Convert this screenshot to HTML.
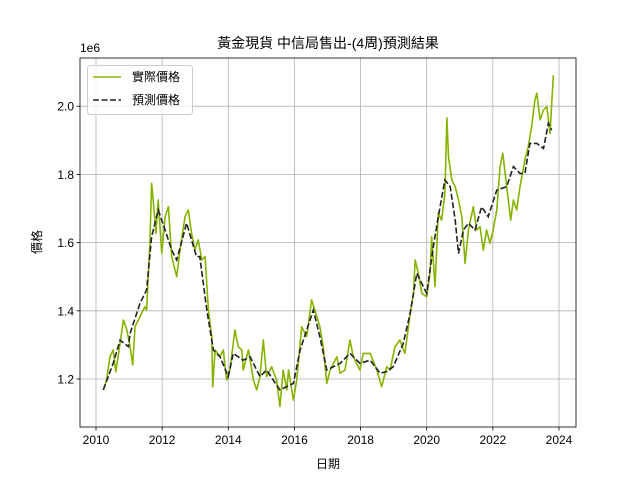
<!DOCTYPE html>
<html><head><meta charset="utf-8"><style>
body{margin:0;background:#fff}
svg{display:block;font-family:"Liberation Sans","Noto Sans CJK TC",sans-serif}
</style></head><body>
<svg id="c" width="640" height="480"></svg>
<script>
const actualYears=[2010.22,2010.32,2010.42,2010.52,2010.60,2010.73,2010.83,2010.93,2011.03,2011.11,2011.18,2011.33,2011.48,2011.53,2011.63,2011.68,2011.73,2011.81,2011.88,2011.99,2012.09,2012.19,2012.29,2012.39,2012.44,2012.54,2012.69,2012.79,2012.89,2012.99,2013.09,2013.20,2013.30,2013.40,2013.50,2013.53,2013.60,2013.75,2013.85,2013.95,2014.05,2014.20,2014.30,2014.41,2014.45,2014.61,2014.76,2014.86,2014.96,2015.06,2015.16,2015.31,2015.46,2015.56,2015.66,2015.77,2015.82,2015.97,2016.07,2016.22,2016.37,2016.52,2016.62,2016.77,2016.87,2016.98,2017.08,2017.18,2017.28,2017.38,2017.53,2017.68,2017.78,2017.98,2018.08,2018.29,2018.49,2018.64,2018.79,2018.89,2019.04,2019.19,2019.34,2019.50,2019.60,2019.65,2019.75,2019.85,2020.00,2020.10,2020.15,2020.25,2020.35,2020.45,2020.55,2020.61,2020.66,2020.76,2020.86,2020.96,2021.06,2021.16,2021.26,2021.41,2021.51,2021.61,2021.71,2021.81,2021.91,2022.01,2022.12,2022.22,2022.30,2022.42,2022.54,2022.62,2022.72,2022.82,2022.97,2023.07,2023.17,2023.27,2023.33,2023.43,2023.53,2023.63,2023.73,2023.78,2023.83];
const actualValues=[1.168,1.197,1.265,1.285,1.221,1.305,1.373,1.344,1.295,1.241,1.353,1.383,1.412,1.402,1.598,1.774,1.725,1.627,1.725,1.569,1.676,1.705,1.559,1.520,1.500,1.578,1.676,1.696,1.627,1.578,1.608,1.549,1.559,1.402,1.324,1.177,1.285,1.265,1.285,1.197,1.226,1.344,1.295,1.285,1.226,1.285,1.197,1.168,1.207,1.314,1.207,1.236,1.197,1.119,1.226,1.168,1.226,1.138,1.197,1.353,1.324,1.432,1.402,1.353,1.295,1.187,1.226,1.246,1.265,1.217,1.226,1.314,1.265,1.226,1.275,1.275,1.226,1.177,1.236,1.226,1.295,1.314,1.275,1.393,1.451,1.549,1.510,1.451,1.441,1.510,1.617,1.471,1.686,1.666,1.745,1.965,1.852,1.784,1.764,1.725,1.676,1.539,1.637,1.705,1.637,1.647,1.578,1.637,1.598,1.637,1.696,1.823,1.862,1.764,1.666,1.725,1.696,1.764,1.842,1.881,1.940,2.018,2.038,1.960,1.989,1.999,1.920,2.008,2.091];
const predYears=[2010.22,2010.52,2010.73,2010.98,2011.03,2011.33,2011.53,2011.68,2011.88,2012.09,2012.29,2012.44,2012.74,2013.04,2013.14,2013.35,2013.55,2013.75,2014.0,2014.15,2014.45,2014.66,2014.96,2015.16,2015.56,2015.97,2016.17,2016.57,2016.77,2016.98,2017.38,2017.68,2017.98,2018.29,2018.59,2018.79,2018.99,2019.29,2019.50,2019.70,2020.0,2020.20,2020.35,2020.55,2020.71,2020.86,2020.96,2021.11,2021.26,2021.46,2021.66,2021.86,2022.12,2022.42,2022.62,2022.82,2022.97,2023.12,2023.33,2023.53,2023.68,2023.78];
const predValues=[1.168,1.246,1.314,1.295,1.334,1.422,1.461,1.617,1.696,1.637,1.578,1.549,1.657,1.559,1.559,1.402,1.285,1.265,1.207,1.275,1.255,1.265,1.207,1.226,1.168,1.187,1.285,1.402,1.324,1.226,1.246,1.275,1.246,1.255,1.217,1.222,1.236,1.304,1.393,1.510,1.451,1.588,1.676,1.784,1.764,1.666,1.568,1.637,1.657,1.637,1.705,1.676,1.754,1.764,1.823,1.803,1.803,1.891,1.891,1.876,1.950,1.930];
const xTicks=[2010,2012,2014,2016,2018,2020,2022,2024];
const yTicks=[1.2,1.4,1.6,1.8,2.0];
const L=80,R=576,T=58,B=427;
const X=v=>96+(v-2010)*(559-96)/14;
const Y=v=>379-(v-1.2)*341;
const NS='http://www.w3.org/2000/svg';
const svg=document.getElementById('c');
function el(t,a,txt){const e=document.createElementNS(NS,t);for(const k in a)e.setAttribute(k,a[k]);if(txt!=null)e.textContent=txt;svg.appendChild(e);return e;}
xTicks.forEach(t=>{
  const g=el('line',{x1:X(t),x2:X(t),y1:T,y2:B,stroke:'#b0b0b0','stroke-width':0.8});
  
  
  el('line',{x1:X(t),x2:X(t),y1:B,y2:B+3.5,stroke:'#000','stroke-width':0.8});
  const tx=el('text',{x:X(t),y:B+17,'text-anchor':'middle','font-size':12,fill:'#000'},t);
  
  
});
yTicks.forEach(t=>{
  const g=el('line',{x1:L,x2:R,y1:Y(t),y2:Y(t),stroke:'#b0b0b0','stroke-width':0.8});
  
  
  el('line',{x1:L-3.5,x2:L,y1:Y(t),y2:Y(t),stroke:'#000','stroke-width':0.8});
  const tx=el('text',{x:L-6,y:Y(t)+4.5,'text-anchor':'end','font-size':12,fill:'#000'},t.toFixed(1));
  
  
});
const pa=actualYears.map((y,i)=>X(y).toFixed(1)+','+Y(actualValues[i]).toFixed(1)).join(' ');
const l1=el('polyline',{points:pa,fill:'none',stroke:'#86b300','stroke-width':1.6,'stroke-linejoin':'round'});


const pp=predYears.map((y,i)=>X(y).toFixed(1)+','+Y(predValues[i]).toFixed(1)).join(' ');
const l2=el('polyline',{points:pp,fill:'none',stroke:'#222','stroke-width':1.6,'stroke-dasharray':'6,2.5'});


const fr=el('rect',{x:L,y:T,width:R-L,height:B-T,fill:'none',stroke:'#000','stroke-width':0.8});


</script>
<svg style="position:absolute;left:0;top:0" width="640" height="480">
<text x="328" y="48" text-anchor="middle" font-size="14" font-family="Liberation Sans,Noto Sans CJK TC,sans-serif">黃金現貨 中信局售出-(4周)預測結果</text>
<text x="80" y="52" font-size="12" font-family="Liberation Sans,sans-serif">1e6</text>
<text x="328" y="468" text-anchor="middle" font-size="12" font-family="Liberation Sans,Noto Sans CJK TC,sans-serif">日期</text>
<text x="41" y="242" text-anchor="middle" font-size="12" transform="rotate(-90 41 242)" font-family="Liberation Sans,Noto Sans CJK TC,sans-serif">價格</text>
<g>
<rect x="87.5" y="65.5" width="105" height="49" rx="3" fill="#fff" fill-opacity="0.8" stroke="#ccc"/>
<line x1="93" x2="121" y1="77" y2="77" stroke="#86b300" stroke-width="1.6"/>
<text x="132" y="81" font-size="12" font-family="Liberation Sans,Noto Sans CJK TC,sans-serif">實際價格</text>
<line x1="93" x2="121" y1="100" y2="100" stroke="#222" stroke-width="1.6" stroke-dasharray="6,2.5"/>
<text x="132" y="104" font-size="12" font-family="Liberation Sans,Noto Sans CJK TC,sans-serif">預測價格</text>
</g>
</svg>
</body></html>
